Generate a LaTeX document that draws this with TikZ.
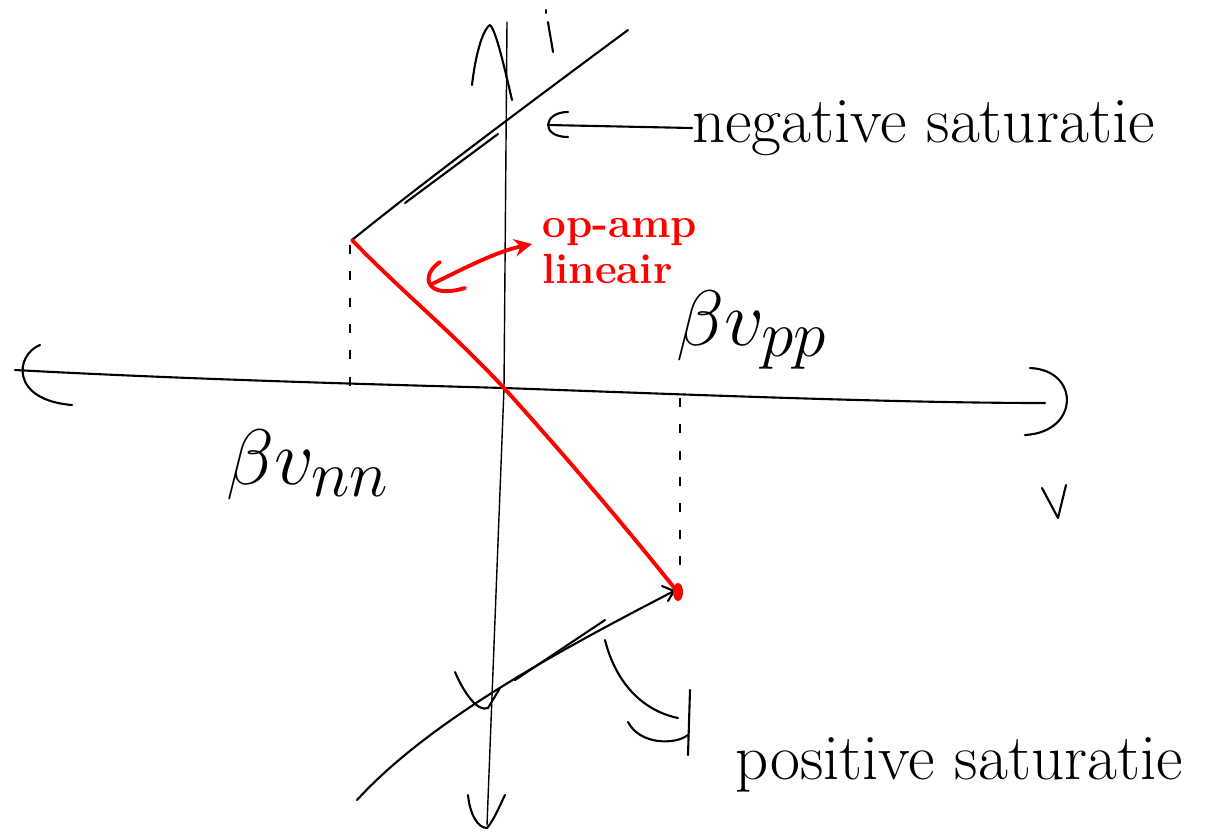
\documentclass[tikz,border=0pt]{standalone}
\usetikzlibrary{arrows.meta}
\begin{document}
\begin{tikzpicture}[x={(0.02cm,0)},y={(0,-0.02cm)},
  pen/.style={line width=1.2pt,line cap=round,line join=round},
  thin pen/.style={line width=0.8pt,line cap=round},
  redpen/.style={line width=2.2pt,red,line cap=round,line join=round},
  guide/.style={line width=1pt,dash pattern=on 5pt off 10pt},
  lbl/.style={font=\fontsize{37}{40}\selectfont,inner sep=0pt},
  mlbl/.style={font=\fontsize{24.88}{28}\selectfont,inner sep=0pt},
  redlbl/.style={font=\fontsize{24}{26}\selectfont\bfseries,text=red,inner sep=0pt,align=left}]
\useasboundingbox (0,0) rectangle (1226,833);
% axes
\coordinate (vtop) at (507,22);
\coordinate (vbot) at (487,825);
\coordinate (hl) at (15,370);
\coordinate (hr) at (1045,403);
\coordinate (o) at (504,388);
\draw[thin pen] (vtop) -- (o) -- (vbot);
\draw[pen] (hl) .. controls (200,380) and (400,385) .. (o) .. controls (700,395) and (900,403) .. (hr);
% vertical axis arrow heads
\draw[pen] (472,85) .. controls (476,50) and (484,28) .. (490,25) .. controls (496,30) and (505,70) .. (512,100);
\draw[pen] (468,795) .. controls (470,815) and (478,828) .. (487,828) .. controls (494,820) and (500,805) .. (505,795);
% horizontal axis ends
\draw[pen] (40,345) .. controls (15,355) and (10,400) .. (72,405);
\draw[pen] (1030,368) .. controls (1080,370) and (1080,432) .. (1025,435);
% i label
\coordinate (ilbl) at (550,30);
\draw[pen] (546,10) -- (546,13);
\draw[pen] (548,22) .. controls (550,35) and (552,45) .. (553,52);
% V label
\draw[pen] (1042,488) -- (1058,518) -- (1066,485);
% negative saturation line
\coordinate (pn) at (352,240);
\coordinate (pnend) at (628,30);
\draw[pen] (pn) .. controls (420,185) and (520,110) .. (pnend);
\draw[pen] (405,203) -- (498,134);
% positive saturation line
\coordinate (pp) at (676,590);
\coordinate (ppend) at (357,800);
\draw[pen] (pp) .. controls (560,650) and (430,720) .. (ppend);
\draw[pen] (662,586) -- (674,591) -- (668,601);
\draw[pen] (605,620) -- (515,680);
\draw[pen] (455,672) .. controls (465,695) and (478,712) .. (488,708) -- (500,688);
% red linear region
\draw[redpen] (pn) .. controls (400,290) and (450,330) .. (o) .. controls (560,450) and (620,520) .. (pp);
\fill[red] (678,592) ellipse (5 and 9);
% dashed guides
\draw[guide] (350,245) -- (350,398);
\draw[guide] (680,398) -- (680,580);
% label beta V_pp / V_nn
\node[mlbl,anchor=west] (bpp) at (676,330) {\scalebox{1.8}{$\beta v_{pp}$}};
\node[mlbl,anchor=west] (bnn) at (226,465) {\scalebox{1.8}{$\beta v_{nn}$}};
% negative saturation annotation
\node[lbl,anchor=west] (neg) at (692,128) {negative saturatie};
\coordinate (negtip) at (548,125);
\draw[pen] (neg.west) -- (negtip);
\draw[pen] (568,112) .. controls (543,112) and (540,137) .. (568,137);
% positive saturation annotation
\node[lbl,anchor=west] (pos) at (735,765) {positive saturatie};
\draw[pen] (605,640) .. controls (615,680) and (640,710) .. (678,718);
\draw[pen] (628,722) .. controls (640,745) and (675,745) .. (688,735);
\draw[pen] (690,690) -- (688,755);
% op-amp linear label
\node[redlbl,anchor=north west] (opamp) at (542,218) {op-amp\\lineair};
\coordinate (optip) at (532,244);
\coordinate (optail) at (432,284);
\draw[redpen,-{Stealth[length=10pt,width=10pt]}] (optail) .. controls (465,268) and (495,252) .. (optip);
\draw[redpen] (440,262) .. controls (420,275) and (425,300) .. (465,288);
\end{tikzpicture}
\end{document}
